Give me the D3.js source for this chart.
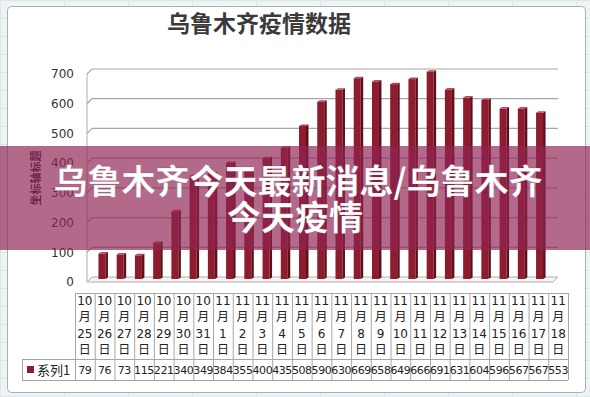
<!DOCTYPE html>
<html>
<head>
<meta charset="utf-8">
<script src="https://cdn.jsdelivr.net/npm/d3@7"></script>
<style>
  body { margin: 0; background: #eef2f3; }
  svg { display: block; }
</style>
</head>
<body>
<div id="chart"></div>
<script>
// data
const months = ["10","10","10","10","10","10","10","11","11","11","11","11","11","11","11","11","11","11","11","11","11","11","11","11","11"];
const days = ["25","26","27","28","29","30","31","1","2","3","4","5","6","7","8","9","10","11","12","13","14","15","16","17","18"];
const cases = [79, 76, 73, 115, 221, 340, 349, 384, 355, 400, 435, 508, 590, 630, 669, 658, 649, 666, 691, 631, 604, 596, 567, 567, 553];
const yTicks = [0, 100, 200, 300, 400, 500, 600, 700];
const seriesName = "系列1";
const chartTitle = "乌鲁木齐疫情数据";
const axisTitle = "坐标轴标题";
const bannerLines = ["乌鲁木齐今天最新消息/乌鲁木齐", "今天疫情"];

const data = days.map((d, i) => ({key: months[i] + "-" + d, month: months[i], day: d, value: cases[i]}));

const width = 590, height = 397;
const barColor = "#8e1b2e";

const svg = d3.select("#chart").append("svg")
  .attr("width", width).attr("height", height);

// spreadsheet-ish background
const bg = svg.append("g");
bg.append("rect").attr("width", width).attr("height", height).attr("fill", "#eef3f4");
d3.range(0, width, 64).forEach(x => bg.append("line")
  .attr("x1", x + 0.5).attr("x2", x + 0.5).attr("y1", 0).attr("y2", height)
  .attr("stroke", "#dde6e8"));
d3.range(0, height, 18).forEach(y => bg.append("line")
  .attr("x1", 0).attr("x2", width).attr("y1", y + 0.5).attr("y2", y + 0.5)
  .attr("stroke", "#dde6e8"));

// chart frame
svg.append("rect")
  .attr("x", 7.5).attr("y", 6.5).attr("width", 578).attr("height", 386)
  .attr("rx", 4)
  .attr("fill", "#fff").attr("stroke", "#a9b0b3");

// title
svg.append("text")
  .attr("x", 259).attr("y", 32)
  .attr("text-anchor", "middle")
  .attr("font-family", "'Noto Sans CJK SC', sans-serif")
  .attr("font-size", 23).attr("font-weight", "bold")
  .attr("fill", "#3a3a3a")
  .text(chartTitle);

// scales
const dx = 5, dy = 5; // 3D depth offset
const y = d3.scaleLinear().domain([0, 700]).range([277, 69]);
const x = d3.scaleBand().domain(data.map(d => d.key)).range([89.7, 554.3]).padding(0.48);
const xTable = d3.scaleBand().domain(data.map(d => d.key)).range([75, 568]);

const wallLeft = 87, wallRight = 558;

// back wall gridlines + left wall
const grid = svg.append("g");
grid.selectAll("path.grid")
  .data(yTicks.filter(t => t > 0))
  .join("path")
  .attr("class", "grid")
  .attr("d", t => `M${wallLeft},${y(t) + dy} L${wallLeft + dx},${y(t)} L${wallRight},${y(t)}`)
  .attr("fill", "none").attr("stroke", "#a8a8a8").attr("stroke-width", 1.2);
grid.append("line")
  .attr("x1", wallLeft).attr("x2", wallLeft)
  .attr("y1", y(700) + dy).attr("y2", y(0) + dy)
  .attr("stroke", "#b0b0b0");
// floor
grid.append("path")
  .attr("d", `M${wallLeft},${y(0) + dy} L${wallLeft + dx},${y(0)} L${wallRight},${y(0)} L${wallRight - dx},${y(0) + dy} Z`)
  .attr("fill", "#f4f4f4").attr("stroke", "#b0b0b0");

// y labels
const yLabel = d3.scaleLinear().domain([0, 700]).range([y(0) + dy, y(700) + dy]);
svg.append("g")
  .attr("transform", "translate(74,0)")
  .call(d3.axisLeft(yLabel).tickValues(yTicks).tickSize(0).tickPadding(0))
  .call(g => g.select(".domain").remove())
  .selectAll("text")
  .attr("font-family", "'DejaVu Sans', sans-serif")
  .attr("font-size", 12).attr("fill", "#333");

svg.append("text")
  .attr("transform", "translate(40,178) rotate(-90)")
  .attr("text-anchor", "middle")
  .attr("font-family", "'Noto Sans CJK SC', sans-serif")
  .attr("font-size", 11).attr("font-weight", "bold")
  .attr("fill", "#222")
  .text(axisTitle);

// bars (front, side, top)
const bw = x.bandwidth();
const side = 2.5;
const bars = svg.append("g").selectAll("g")
  .data(data)
  .join("g")
  .attr("transform", d => `translate(${x(d.key)},0)`);
bars.append("rect")
  .attr("x", 0).attr("y", d => y(d.value))
  .attr("width", bw - side).attr("height", d => y(0) + 2 - y(d.value))
  .attr("fill", barColor);
bars.append("path")
  .attr("d", d => `M${bw - side},${y(d.value)} L${bw},${y(d.value) - 1.5} L${bw},${y(0) + 0.5} L${bw - side},${y(0) + 2} Z`)
  .attr("fill", "#5f0e1b");
bars.append("path")
  .attr("d", d => `M0,${y(d.value)} L${side},${y(d.value) - 1.5} L${bw},${y(d.value) - 1.5} L${bw - side},${y(d.value)} Z`)
  .attr("fill", "#b54558");

// data table
const table = svg.append("g")
  .attr("font-family", "'DejaVu Sans', sans-serif")
  .attr("fill", "#222");
const rowTop = 293, rowMid = 359, rowBottom = 380;
const tableStroke = "#a6a6a6";

table.selectAll("line.col")
  .data(data.map(d => xTable(d.key)).concat([xTable.range()[1]]))
  .join("line")
  .attr("class", "col")
  .attr("x1", d => d + 0.5).attr("x2", d => d + 0.5)
  .attr("y1", rowTop).attr("y2", rowBottom)
  .attr("stroke", tableStroke);
[rowTop, rowMid, rowBottom].forEach(yy => table.append("line")
  .attr("x1", yy === rowTop ? 75 : 22).attr("x2", 568)
  .attr("y1", yy + 0.5).attr("y2", yy + 0.5)
  .attr("stroke", tableStroke));
table.append("line")
  .attr("x1", 22.5).attr("x2", 22.5).attr("y1", rowMid).attr("y2", rowBottom)
  .attr("stroke", tableStroke);

const header = table.selectAll("g.head")
  .data(data)
  .join("g")
  .attr("class", "head")
  .attr("transform", d => `translate(${xTable(d.key) + xTable.bandwidth() / 2},0)`);
header.each(function(d) {
  const g = d3.select(this);
  [d.month, "月", d.day, "日"].forEach((t, i) => g.append("text")
    .attr("y", 305 + i * 16.3)
    .attr("text-anchor", "middle")
    .attr("font-size", 12)
    .attr("font-family", i % 2 ? "'Noto Sans CJK SC', sans-serif" : "'DejaVu Sans', sans-serif")
    .text(t));
});

table.selectAll("text.val")
  .data(data)
  .join("text")
  .attr("class", "val")
  .attr("x", d => xTable(d.key) + xTable.bandwidth() / 2)
  .attr("y", 374)
  .attr("text-anchor", "middle")
  .attr("font-size", 11)
  .attr("letter-spacing", -0.4)
  .text(d => d.value);

table.append("rect")
  .attr("x", 27).attr("y", 366).attr("width", 7).attr("height", 7)
  .attr("fill", barColor);
table.append("text")
  .attr("x", 37).attr("y", 375)
  .attr("font-family", "'Noto Sans CJK SC', sans-serif")
  .attr("font-size", 13)
  .text(seriesName);

// overlay banner
svg.append("rect")
  .attr("x", 0).attr("y", 146).attr("width", width).attr("height", 104)
  .attr("fill", "#8f2352").attr("fill-opacity", 0.68);
svg.append("g")
  .selectAll("text")
  .data(bannerLines)
  .join("text")
  .attr("x", (d, i) => i ? width / 2 : 298)
  .attr("y", (d, i) => 194 + i * 36)
  .attr("text-anchor", "middle")
  .attr("font-family", "'Noto Sans CJK SC', sans-serif")
  .attr("font-size", 34).attr("font-weight", "bold")
  .attr("fill", "#fff")
  .attr("stroke", "rgba(80,20,40,0.25)").attr("stroke-width", 0.6)
  .text(d => d);
</script>
</body>
</html>
